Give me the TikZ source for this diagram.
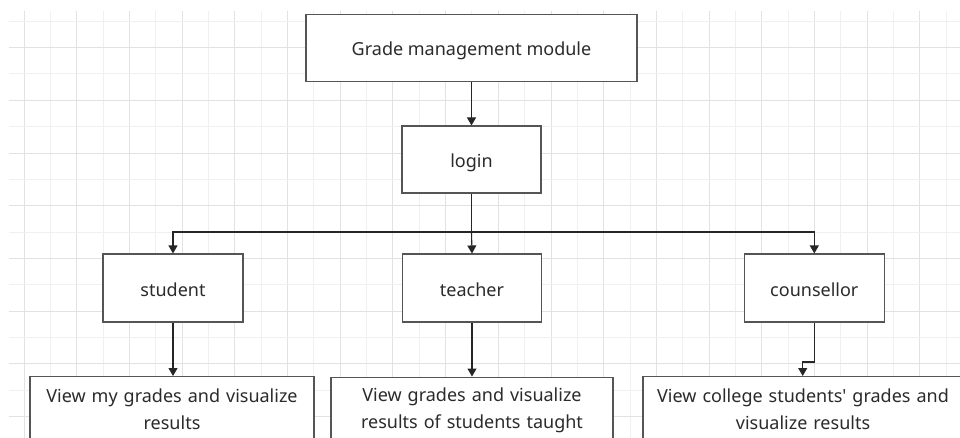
\documentclass[tikz,border=0pt]{standalone}
\usepackage{fontspec}
\setmainfont{Noto Sans}
\usetikzlibrary{arrows.meta}
\definecolor{gridA}{HTML}{E2E2E2}
\definecolor{gridB}{HTML}{F0F0F0}
\definecolor{boxline}{HTML}{555555}
\definecolor{txt}{HTML}{2B2B2B}
\tikzset{
  box/.style={draw=boxline, line width=1.1pt, fill=white, rectangle, inner sep=0pt,
    text=txt, font=\fontsize{18}{27}\selectfont, align=center},
  onebox/.style={box, text height=17pt, text depth=1pt},
  conn/.style={draw=black!85, line width=1.1pt},
  arr/.style={conn, -{Triangle[width=9pt,length=8pt]}}
}
\begin{document}
\begin{tikzpicture}[x=1pt,y=-1pt]
\useasboundingbox (0,0) rectangle (960,438);
\clip (0,0) rectangle (960,438);
\fill[white] (0,0) rectangle (960,438);
% grid
\foreach \i in {0,...,35} {
  \pgfmathsetmacro{\gx}{24+26.35*\i}
  \ifodd\i
    \draw[gridB, line width=1pt] (\gx,11) -- (\gx,438);
  \else
    \draw[gridA, line width=1pt] (\gx,11) -- (\gx,438);
  \fi
}
\foreach \j in {0,...,16} {
  \pgfmathsetmacro{\gy}{21.3+26.35*\j}
  \ifodd\j
    \draw[gridA, line width=1pt] (9,\gy) -- (960,\gy);
  \else
    \draw[gridB, line width=1pt] (9,\gy) -- (960,\gy);
  \fi
}
% nodes
\node[onebox, minimum width=331pt, minimum height=67pt] (top) at (471.5,47.7) {Grade management module};
\node[onebox, minimum width=139pt, minimum height=67pt] (login) at (471.5,159.5) {login};
\node[onebox, minimum width=140pt, minimum height=68pt] (student) at (173,288) {student};
\node[onebox, minimum width=139pt, minimum height=68pt] (teacher) at (472,288) {teacher};
\node[onebox, minimum width=140pt, minimum height=68pt] (couns) at (814.3,288) {counsellor};
\node[box, anchor=north, minimum width=284pt, minimum height=90pt, text width=284pt] (b1) at (172,376)
  {\raisebox{0pt}[20pt][0pt]{}View my grades and visualize\\results\par\vspace*{30pt}};
\node[box, anchor=north, minimum width=282pt, minimum height=90pt, text width=282pt] (b2) at (472,376.5)
  {\raisebox{0pt}[20pt][0pt]{}View grades and visualize\\results of students taught\par\vspace*{30pt}};
\node[box, anchor=north, minimum width=320pt, minimum height=90pt, text width=317pt] (b3) at (803,376)
  {\raisebox{0pt}[20pt][0pt]{}View college students\textquotesingle{} grades and\\visualize results\par\vspace*{30pt}};
% connectors
\coordinate (bus) at (471.5,232);
\draw[arr] (top.south) -- (login.north);
\draw[conn] (login.south) -- (bus);
\draw[arr] (bus) -| (student.north);
\draw[arr] (bus) -- (teacher.north);
\draw[arr] (bus) -| (couns.north);
\draw[arr] (student.south) -- (student.south |- b1.north);
\draw[arr] (teacher.south) -- (teacher.south |- b2.north);
\coordinate (celbow) at (814.3,362);
\coordinate (cdrop) at (802.7,362);
\draw[arr] (couns.south) -- (celbow) -- (cdrop) -- (cdrop |- b3.north);
\end{tikzpicture}
\end{document}
